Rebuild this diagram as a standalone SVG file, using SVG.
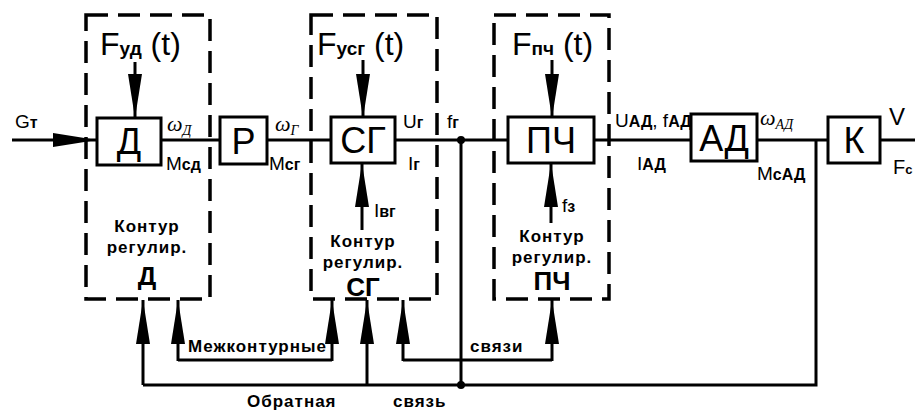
<svg xmlns="http://www.w3.org/2000/svg" width="915" height="412" viewBox="0 0 915 412">
<defs>
<marker id="ah" markerUnits="userSpaceOnUse" viewBox="0 0 44 16" refX="44" refY="8" markerWidth="44" markerHeight="16" orient="auto">
<path d="M0,1 L44,8 L0,15 Z" fill="#000"/>
</marker>
</defs>
<style>
.blk{fill:#fff;stroke:#000;stroke-width:3}
.dash{fill:none;stroke:#000;stroke-width:3.5;stroke-dasharray:22 10}
.ln{fill:none;stroke:#000;stroke-width:3}
.arr{fill:none;stroke:#000;stroke-width:3;marker-end:url(#ah)}
.big{font-family:"Liberation Sans",Arial,sans-serif;font-size:36px;fill:#000;text-anchor:middle}
.f{font-family:"Liberation Sans",Arial,sans-serif;font-size:32px;fill:#000}
.fs{font-size:19px;font-weight:bold}
.lb{font-family:"Liberation Sans",Arial,sans-serif;font-size:19px;fill:#000}
.sb{font-size:16px;font-weight:bold}
.om{font-family:"Liberation Serif","Times New Roman",serif;font-style:italic;font-size:22px;fill:#000}
.oms{font-size:14px}
.bt{font-family:"Liberation Sans",Arial,sans-serif;font-weight:bold;font-size:17px;fill:#000;letter-spacing:1px}
.btc{text-anchor:middle}
.bl{font-family:"Liberation Sans",Arial,sans-serif;font-weight:bold;font-size:26px;fill:#000;text-anchor:middle}
</style>

<g id="contours">
<rect id="contour-D" class="dash" x="86" y="15" width="124" height="284"/>
<rect id="contour-SG" class="dash" x="311" y="15" width="126" height="284"/>
<rect id="contour-PCh" class="dash" x="494" y="15" width="115" height="284"/>
</g>

<g id="connectors">
<line class="arr" x1="12" y1="140" x2="97" y2="140"/>
<line class="ln" x1="161" y1="140" x2="220" y2="140"/>
<line class="ln" x1="267" y1="140" x2="331" y2="140"/>
<line class="ln" x1="395" y1="140" x2="508" y2="140"/>
<line class="ln" x1="594" y1="140" x2="691" y2="140"/>
<line class="ln" x1="757" y1="140" x2="828" y2="140"/>
<line class="ln" x1="880" y1="140" x2="915" y2="140"/>
<line class="arr" x1="135" y1="62" x2="135" y2="118"/>
<line class="arr" x1="363" y1="60" x2="363" y2="118"/>
<line class="arr" x1="552" y1="60" x2="552" y2="118"/>
<line class="arr" x1="362" y1="230" x2="362" y2="163"/>
<line class="arr" x1="551" y1="223" x2="551" y2="163"/>
<line class="ln" x1="461" y1="140" x2="461" y2="385"/>
<circle cx="461" cy="140" r="4" fill="#000"/>
<circle cx="461" cy="385" r="4" fill="#000"/>
<polyline class="ln" points="143,385 816,385 816,140"/>
<line class="arr" x1="143" y1="385" x2="143" y2="300"/>
<line class="arr" x1="367" y1="385" x2="367" y2="300"/>
<polyline class="ln" points="178,360 332,360"/>
<line class="arr" x1="178" y1="361" x2="178" y2="300"/>
<line class="arr" x1="332" y1="361" x2="332" y2="300"/>
<polyline class="ln" points="403,360 552,360"/>
<line class="arr" x1="403" y1="361" x2="403" y2="300"/>
<line class="arr" x1="552" y1="361" x2="552" y2="300"/>
</g>

<g id="node-D"><rect class="blk" x="97" y="118" width="64" height="47"/><text class="big" x="129" y="154">Д</text></g>
<g id="node-R"><rect class="blk" x="220" y="117" width="47" height="47"/><text class="big" x="243.5" y="154">Р</text></g>
<g id="node-SG"><rect class="blk" x="331" y="117" width="64" height="46"/><text class="big" x="363" y="153">СГ</text></g>
<g id="node-PCh"><rect class="blk" x="508" y="117" width="86" height="46"/><text class="big" x="551" y="153">ПЧ</text></g>
<g id="node-AD"><rect class="blk" x="691" y="114" width="66" height="47"/><text class="big" x="724" y="151">АД</text></g>
<g id="node-K"><rect class="blk" x="828" y="117" width="52" height="46"/><text class="big" x="854" y="153">К</text></g>

<g id="labels">
<text class="lb" x="15" y="128">G<tspan class="sb">т</tspan></text>
<text class="f" x="100" y="55">F<tspan class="fs">уд</tspan> (t)</text>
<text class="f" x="317" y="55">F<tspan class="fs">усг</tspan> (t)</text>
<text class="f" x="512" y="55">F<tspan class="fs">пч</tspan> (t)</text>
<text class="om" x="167" y="131">ω<tspan class="oms" dy="4">Д</tspan></text>
<text class="om" x="275" y="131">ω<tspan class="oms" dy="4">Г</tspan></text>
<text class="om" x="760" y="125">ω<tspan class="oms" dy="4">АД</tspan></text>
<text class="lb" x="166" y="170">M<tspan class="sb">сд</tspan></text>
<text class="lb" x="269" y="170">M<tspan class="sb">сг</tspan></text>
<text class="lb" x="403" y="128">U<tspan class="sb">г</tspan></text>
<text class="lb" x="408" y="170">I<tspan class="sb">г</tspan></text>
<text class="lb" x="447" y="128">f<tspan class="sb">г</tspan></text>
<text class="lb" x="615" y="127">U<tspan class="sb">АД</tspan>, f<tspan class="sb">АД</tspan></text>
<text class="lb" x="637" y="170">I<tspan class="sb">АД</tspan></text>
<text class="lb" x="757" y="180">M<tspan class="sb">сАД</tspan></text>
<text class="lb" x="889" y="125" style="font-size:24px">V</text>
<text class="lb" x="893" y="174" style="font-size:20px">F<tspan style="font-size:13px;font-weight:bold">с</tspan></text>
<text class="lb" x="374" y="217">I<tspan class="sb">вг</tspan></text>
<text class="lb" x="562" y="212">f<tspan class="sb">з</tspan></text>
<text class="bt btc" x="147" y="232">Контур</text>
<text class="bt btc" x="147" y="253">регулир.</text>
<text class="bl" x="147" y="285">Д</text>
<text class="bt btc" x="363" y="247">Контур</text>
<text class="bt btc" x="363" y="268">регулир.</text>
<text class="bl" x="363" y="296">СГ</text>
<text class="bt btc" x="552" y="242">Контур</text>
<text class="bt btc" x="552" y="263">регулир.</text>
<text class="bl" x="552" y="290">ПЧ</text>
<text class="bt" x="188" y="352">Межконтурные</text>
<text class="bt" x="470" y="352">связи</text>
<text class="bt" x="247" y="407">Обратная</text>
<text class="bt" x="393" y="407">связь</text>
</g>
</svg>
